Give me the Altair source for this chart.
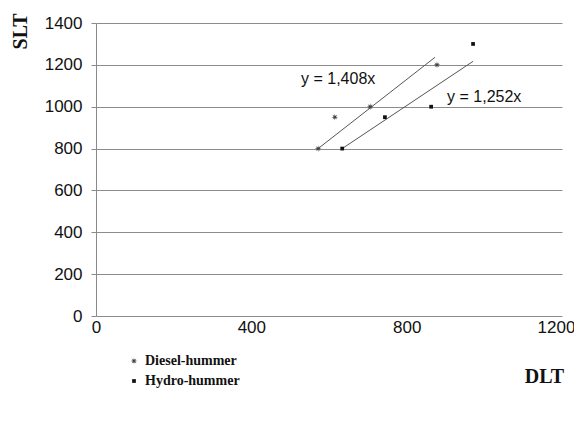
import math
import altair as alt
import pandas as pd

# ---- data ----
diesel_x = [572, 615, 706, 878]
diesel_y = [800, 950, 1000, 1200]
hydro_x = [634, 744, 863, 971]
hydro_y = [800, 950, 1000, 1300]

series_names = ["Diesel-hummer", "Hydro-hummer"]

# trend line end points (as drawn)
trend_series = ["Diesel-hummer", "Diesel-hummer", "Hydro-hummer", "Hydro-hummer"]
trend_x = [572, 873, 634, 971]
trend_y = [800, 1236, 800, 1217]

eq_text = ["y = 1,408x", "y = 1,252x"]
eq_x = [528, 904]
eq_y = [1131, 1045]

x_ticks = [0, 400, 800, 1200]
y_ticks = [0, 200, 400, 600, 800, 1000, 1200, 1400]

pts = pd.DataFrame({
    "DLT": diesel_x + hydro_x,
    "SLT": diesel_y + hydro_y,
    "series": [series_names[0]] * len(diesel_x) + [series_names[1]] * len(hydro_x),
})
trend = pd.DataFrame({"DLT": trend_x, "SLT": trend_y, "series": trend_series})
eqs = pd.DataFrame({"DLT": eq_x, "SLT": eq_y, "label": eq_text})

# small filled 8-point star marker shape
_pts = []
for i in range(16):
    r = 1.0 if i % 2 == 0 else 0.38
    a = math.pi * i / 8
    _pts.append(f"{r * math.sin(a):.3f},{-r * math.cos(a):.3f}")
star = "M" + "L".join(_pts) + "Z"

xscale = alt.Scale(domain=[0, 1200], nice=False, zero=True)
yscale = alt.Scale(domain=[0, 1400], nice=False)

xaxis = alt.Axis(values=x_ticks, title="DLT", grid=False, domain=False, ticks=False,
                 format="d",
                 labelFont="Liberation Sans", labelFontSize=17, labelColor="#111",
                 labelPadding=3, labelFlush=False,
                 labelOffset={"condition": {"test": "datum.value == 1200", "value": -6},
                              "value": 0},
                 titleFont="Liberation Serif", titleFontSize=20, titleFontWeight="bold",
                 titleColor="#111", titleX=448, titleY=60, titleAlign="center",
                 titleBaseline="middle")
yaxis = alt.Axis(values=y_ticks, title="SLT", grid=True, gridColor="#8c8c8c",
                 domain=True, domainColor="#8a8a8a", ticks=True, tickColor="#8a8a8a",
                 tickSize=5, format="d",
                 labelFont="Liberation Sans", labelFontSize=17,
                 labelColor="#111", labelPadding=9,
                 titleFont="Liberation Serif", titleFontSize=20, titleFontWeight="bold",
                 titleColor="#111", titleAngle=270, titleX=-76, titleY=8,
                 titleAlign="center", titleBaseline="middle")

color_scale = alt.Scale(domain=series_names, range=["#444444", "#111111"])
shape_scale = alt.Scale(domain=series_names, range=[star, "square"])
size_scale = alt.Scale(domain=series_names, range=[45, 14])

points = alt.Chart(pts).mark_point(filled=True, opacity=1).encode(
    x=alt.X("DLT:Q", scale=xscale, axis=xaxis),
    y=alt.Y("SLT:Q", scale=yscale, axis=yaxis),
    color=alt.Color("series:N", scale=color_scale,
                    legend=alt.Legend(orient="none", legendX=31, legendY=331, title=None,
                                      labelFont="Liberation Serif", labelFontWeight="bold",
                                      labelFontSize=14, labelColor="#111",
                                      rowPadding=6, symbolSize=30, symbolOpacity=1,
                                      padding=0)),
    shape=alt.Shape("series:N", scale=shape_scale, legend=None),
    size=alt.Size("series:N", scale=size_scale, legend=None),
)

lines = alt.Chart(trend).mark_line(color="#555555", strokeWidth=1).encode(
    x=alt.X("DLT:Q", scale=xscale),
    y=alt.Y("SLT:Q", scale=yscale),
    detail="series:N",
)

texts = alt.Chart(eqs).mark_text(align="left", baseline="middle", font="Liberation Sans",
                                  fontSize=16, color="#111").encode(
    x=alt.X("DLT:Q", scale=xscale),
    y=alt.Y("SLT:Q", scale=yscale),
    text="label:N",
)

chart = alt.layer(lines, points, texts).properties(
    width=466, height=293,
    autosize=alt.AutoSizeParams(type="none"),
    padding={"left": 88, "top": 15, "right": 12, "bottom": 99},
    background="white",
).configure_view(stroke=None)

chart.save("out.html", embed_options={"renderer": "svg", "actions": False})
